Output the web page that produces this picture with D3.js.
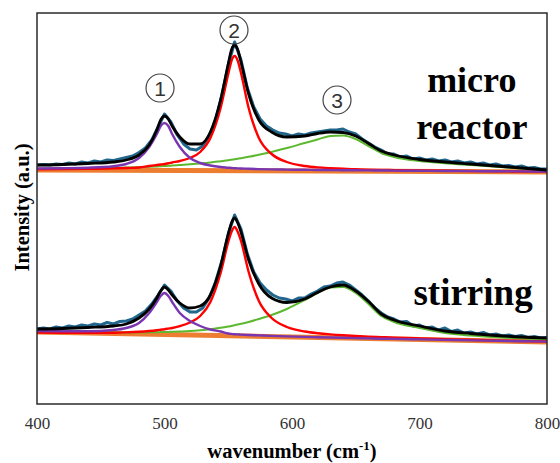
<!DOCTYPE html>
<html>
<head>
<meta charset="utf-8">
<script src="https://cdn.jsdelivr.net/npm/d3@7"></script>
<style>
  body { margin: 0; background: #fff; }
  svg { display: block; }
</style>
</head>
<body>
<svg id="svg" width="560" height="463"></svg>
<script>
// wavenumber grid for the fitted curves
const fitWn = [400, 420, 440, 460, 470, 480, 488, 494, 497, 500, 503, 506, 512, 520, 528, 536, 544, 550,
  552.5, 555, 557.5, 560, 566, 574, 584, 596, 610, 620, 630, 640, 650, 660, 670, 680, 700, 720, 740, 760, 780, 800];
// wavenumber grid for the measured spectra
const rawWn = d3.range(400, 801, 5);

const xTicks = [400, 500, 600, 700, 800];

// stacking offset of each spectrum (a.u.)
const microOffset = 170;
const stirringOffset = 0;

// micro reactor
const microRaw = [7, 7.5, 7, 8, 7.5, 9, 8, 10, 9, 11, 10, 12, 11.5, 13, 14.5, 16, 19.5, 24, 32, 45, 58,
  50, 37, 28, 23, 22, 26, 36, 52, 77, 107, 130, 112, 84, 65, 53, 46, 42, 39, 38, 36,
  38, 37, 39, 40, 41, 42, 42, 43, 40, 38, 33, 29, 25, 22, 18, 18, 15, 16, 13, 14,
  12, 13, 11, 12, 10, 11, 9, 10, 8, 9, 7, 8, 6, 6.5, 5, 6, 4, 4.5, 3, 3];
const microFit = [7, 7.5, 8.5, 10, 12, 17, 27, 42, 52, 56, 53, 46, 35, 28, 28, 40, 72, 108,
  122, 127, 122, 110, 78, 52, 40, 35, 36, 38.5, 40, 39.5, 36, 28.5, 21, 17, 12.5, 10, 8, 6, 4, 2];
const microPeak1 = [3.5, 3.8, 4.3, 5.8, 8, 14, 25, 38, 46, 49, 46, 38, 25, 14, 9, 6.5, 5, 4.3,
  4, 3.8, 3.6, 3.5, 3.2, 2.9, 2.6, 2.4, 2.2, 2, 1.9, 1.8, 1.7, 1.6, 1.5, 1.4, 1.2, 1.0, 0.9, 0.7, 0.6, 0.5];
const microPeak2 = [2.8, 2.9, 3.2, 3.6, 4.0, 4.5, 6, 7, 7.5, 8, 8.7, 9.5, 11, 14, 20, 34, 64, 98,
  111, 116, 111, 99, 64, 34, 18, 10, 6, 4.6, 3.8, 3.2, 2.8, 2.4, 2.1, 1.9, 1.5, 1.2, 1.0, 0.7, 0.5, 0.3];
const microPeak3 = [3, 3.2, 3.5, 4, 4.4, 4.8, 5.2, 5.6, 5.8, 6, 6.2, 6.5, 7, 7.7, 8.5, 9.5, 10.8, 11.8,
  12.3, 12.8, 13.3, 13.8, 15.2, 17.2, 20, 24, 29, 32.5, 36, 36.5, 33, 26, 19, 15, 11, 8.8, 7, 5.2, 3.5, 1.8];
const microBase = [2, 0];

// stirring
const stirRaw = [13, 14, 13, 15, 14, 16, 15, 17, 16, 18, 17, 19.5, 18, 20.5, 21, 23, 27, 31, 38, 47, 57,
  51, 41, 34, 30, 30, 34, 44, 60, 81, 108, 127, 113, 88, 70, 59, 52, 47, 44, 43, 41,
  44, 44, 48, 51, 55, 56, 59, 60, 57, 52, 47, 41, 34, 29, 25, 23, 20, 20.5, 16, 17,
  14, 15, 12, 14, 10.5, 12, 9, 10, 8, 9.5, 7, 8, 6, 7, 5.5, 6.5, 4.5, 5.5, 4, 4.5];
const stirFit = [13, 13.5, 14.5, 16, 18, 24, 33, 44, 51, 55, 52, 47, 39, 34, 36, 47, 76, 108,
  119, 124, 119, 110, 82, 58, 44, 39.5, 43, 49.5, 55, 57, 51, 40.5, 28, 22, 16, 11, 8.5, 6.5, 5, 4];
const stirPeak1 = [11, 10.8, 10.8, 12, 14, 19, 29, 40, 46, 49, 46, 40, 29, 21, 16, 12.5, 10.5, 8.5,
  8.1, 7.8, 7.6, 7.4, 7, 6.6, 6.1, 5.6, 5.1, 4.8, 4.5, 4.2, 3.9, 3.6, 3.3, 3.1, 2.6, 2.1, 1.6, 1.2, 0.8, 0.4];
const stirPeak2 = [9.5, 9.3, 9.2, 9.3, 9.6, 10.2, 11, 11.8, 12.3, 12.8, 13.4, 14, 15.8, 19.5, 26, 40, 69, 100,
  110, 115, 110, 101, 70, 41, 24, 15, 10.5, 8.8, 7.6, 6.7, 6, 5.4, 4.9, 4.4, 3.6, 2.9, 2.2, 1.6, 1, 0.5];
const stirPeak3 = [10, 9.8, 9.6, 9.5, 9.5, 9.6, 9.7, 9.8, 9.9, 10, 10.1, 10.2, 10.5, 11, 11.8, 12.8, 14.2, 15.5,
  16.1, 16.8, 17.5, 18.2, 20, 23, 27, 33, 42, 49, 54.5, 55, 49, 38, 26, 20, 14, 9, 6.5, 4.8, 3.5, 2.5];
const stirBase = [10, 0];
const baseWn = [400, 800];

const svg = d3.select("#svg");
const plotL = 37, plotR = 547, plotT = 13, plotB = 404;
const serif = "'Liberation Serif', 'Times New Roman', serif";

const x = d3.scaleLinear().domain([400, 800]).range([plotL, plotR]);
const y = d3.scaleLinear().domain([-62, 329]).range([plotB, plotT]);

const line = (curve) =>
  d3.line().x((d) => x(d[0])).y((d) => y(d[1])).curve(curve);

function drawSpectrum(offset, raw, fit, p1, p2, p3, base) {
  const g = svg.append("g");
  const pts = (wn, vals) => wn.map((w, i) => [w, vals[i] + offset]);

  // baseline
  g.append("path")
    .attr("d", line(d3.curveLinear)(pts(baseWn, base)))
    .attr("fill", "none")
    .attr("stroke", "#ed7d31")
    .attr("stroke-width", 5);

  // measured data
  g.append("path")
    .attr("d", line(d3.curveLinear)(pts(rawWn, raw)))
    .attr("fill", "none")
    .attr("stroke", "#21668c")
    .attr("stroke-width", 3)
    .attr("stroke-linejoin", "round");

  // fitted components
  [[p3, "#5cb82e", 2], [p2, "#ff0000", 2.4], [p1, "#7a35b0", 2.4]].forEach(([vals, color, w]) => {
    g.append("path")
      .attr("d", line(d3.curveMonotoneX)(pts(fitWn, vals)))
      .attr("fill", "none")
      .attr("stroke", color)
      .attr("stroke-width", w);
  });

  // cumulative fit
  g.append("path")
    .attr("d", line(d3.curveMonotoneX)(pts(fitWn, fit)))
    .attr("fill", "none")
    .attr("stroke", "#000")
    .attr("stroke-width", 2.8);
}

drawSpectrum(stirringOffset, stirRaw, stirFit, stirPeak1, stirPeak2, stirPeak3, stirBase);
drawSpectrum(microOffset, microRaw, microFit, microPeak1, microPeak2, microPeak3, microBase);

// frame
svg.append("rect")
  .attr("x", plotL)
  .attr("y", plotT)
  .attr("width", plotR - plotL)
  .attr("height", plotB - plotT)
  .attr("fill", "none")
  .attr("stroke", "#2b2b2b")
  .attr("stroke-width", 1.5);

// x axis labels only
const xAxis = svg.append("g")
  .attr("transform", `translate(0,${plotB})`)
  .call(d3.axisBottom(x).tickValues(xTicks).tickSize(0).tickPadding(13).tickFormat(d3.format("d")));
xAxis.select(".domain").remove();
xAxis.selectAll("text")
  .style("font-family", serif)
  .style("font-size", "17px")
  .attr("fill", "#333");

// circled peak numbers
const marks = [["1", 496.5, 254], ["2", 554.5, 312], ["3", 635.3, 242]];
marks.forEach(([t, wn, v]) => {
  const mg = svg.append("g").attr("transform", `translate(${x(wn)},${y(v)})`);
  mg.append("circle").attr("r", 14).attr("fill", "none").attr("stroke", "#444").attr("stroke-width", 1.2);
  mg.append("text")
    .attr("text-anchor", "middle")
    .attr("dy", "0.36em")
    .style("font-family", "'Liberation Sans', Arial, sans-serif")
    .style("font-size", "21px")
    .attr("fill", "#333")
    .text(t);
});

// sample names
const names = [["micro", 741, 250, 36], ["reactor", 741, 203, 36], ["stirring", 742, 37, 37]];
names.forEach(([t, wn, v, fs]) => {
  svg.append("text")
    .attr("x", x(wn))
    .attr("y", y(v))
    .attr("text-anchor", "middle")
    .style("font-family", serif)
    .style("font-weight", "bold")
    .style("font-size", fs + "px")
    .text(t);
});

// axis titles
const xTitle = svg.append("text")
  .attr("x", (plotL + plotR) / 2)
  .attr("y", 458)
  .attr("text-anchor", "middle")
  .style("font-family", serif)
  .style("font-weight", "bold")
  .style("font-size", "20.5px")
  .text("wavenumber (cm");
xTitle.append("tspan").attr("dy", -8).style("font-size", "13px").text("-1");
xTitle.append("tspan").attr("dy", 8).text(")");

svg.append("text")
  .attr("transform", "translate(28.5,207.5) rotate(-90)")
  .attr("text-anchor", "middle")
  .style("font-family", serif)
  .style("font-weight", "bold")
  .style("font-size", "20.5px")
  .text("Intensity (a.u.)");
</script>
</body>
</html>
